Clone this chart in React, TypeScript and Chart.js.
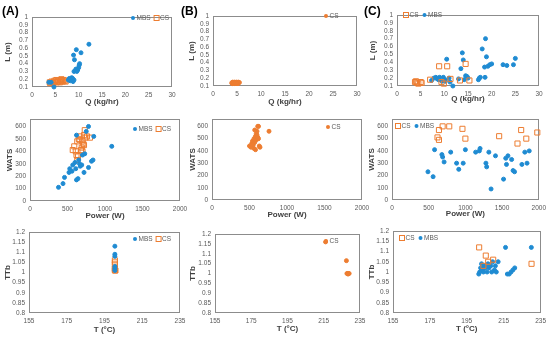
import React, { useEffect, useRef } from "react";
import { Chart, registerables } from "chart.js";
Chart.register(...registerables);

type Pt = [number, number];

const BLUE = "#1f8bd2";
const ORANGE = "#ed7d31";
const FONT = "'Liberation Sans', Arial, sans-serif";

// ---- Row 1: L (m) vs Q (kg/hr)
const qTicks = [0, 30, 5];
const lTicks = [0.1, 1, 0.1];
const A1_MBS: Pt[] = [[12.2,0.65],[9.5,0.58],[10.5,0.54],[8.9,0.51],[9.1,0.45],[10.2,0.40],[10.1,0.38],[10.0,0.35],[9.4,0.33],[9.8,0.32],[9.0,0.30],[9.6,0.30],[8.5,0.22],[8.7,0.21],[8.3,0.20],[9.0,0.19],[8.2,0.18],[8.8,0.17],[8.0,0.21],[7.8,0.19],[4.7,0.10],[3.6,0.16],[4.1,0.16]];
const A1_CS: Pt[] = [[3.8,0.16],[4.2,0.17],[4.5,0.16],[4.8,0.18],[5.0,0.17],[5.3,0.16],[5.6,0.18],[5.9,0.17],[6.2,0.19],[6.4,0.18],[6.6,0.17],[6.8,0.19],[7.0,0.18],[4.6,0.15],[5.2,0.19],[6.0,0.16],[7.2,0.17],[3.9,0.15],[6.3,0.20],[5.5,0.165]];
const B1_CS: Pt[] = [[3.9,0.14],[4.1,0.15],[4.3,0.14],[4.5,0.15],[4.7,0.14],[4.9,0.15],[5.1,0.14],[5.3,0.15],[5.5,0.145],[4.0,0.13],[4.4,0.13],[4.8,0.13],[5.2,0.13],[4.2,0.145],[4.6,0.14],[5.0,0.14]];
const C1_CS: Pt[] = [[3.8,0.15],[4.2,0.14],[4.5,0.13],[5.0,0.15],[5.2,0.14],[7.0,0.18],[8.9,0.35],[9.4,0.15],[9.9,0.13],[10.6,0.35],[11.3,0.19],[13.3,0.17],[14.5,0.38],[15.3,0.17],[4.0,0.16]];
const C1_MBS: Pt[] = [[7.3,0.17],[7.8,0.20],[8.2,0.21],[8.5,0.19],[8.8,0.18],[9.0,0.21],[9.5,0.16],[9.8,0.21],[10.2,0.18],[10.5,0.44],[11.0,0.20],[11.2,0.15],[11.8,0.10],[13.0,0.19],[13.5,0.32],[13.8,0.52],[14.0,0.43],[14.2,0.18],[14.5,0.23],[14.8,0.22],[15.0,0.20],[17.2,0.18],[17.4,0.20],[17.6,0.21],[18.0,0.57],[18.5,0.34],[18.7,0.70],[18.9,0.47],[19.2,0.35],[19.6,0.37],[20.0,0.38],[18.6,0.21],[22.4,0.37],[23.2,0.36],[24.6,0.37],[25.0,0.45],[10.2,0.16],[8.7,0.19]];

// ---- Row 2: WATS vs Power (W)
const pTicks = [0, 2000, 500];
const wTicks = [0, 660, 100];
const A2_MBS: Pt[] = [[380,110],[440,140],[460,190],[520,230],[530,260],[560,240],[570,290],[600,310],[610,260],[620,170],[640,180],[650,330],[660,300],[670,280],[690,290],[700,370],[720,230],[730,380],[780,270],[820,320],[840,330],[620,530],[750,560],[780,600],[850,520],[1090,440]];
const A2_CS: Pt[] = [[570,410],[590,440],[610,400],[620,370],[630,330],[640,360],[650,500],[660,490],[670,520],[680,410],[690,430],[700,480],[710,460],[720,530],[730,570],[740,510],[760,520],[800,510],[630,480],[700,400],[720,450]];
const B2_CS: Pt[] = [[500,440],[520,430],[530,460],[540,480],[550,450],[560,500],[570,470],[580,520],[590,540],[600,560],[610,600],[620,500],[630,440],[640,430],[580,410],[570,570],[590,490],[600,530],[620,600],[760,560],[560,420],[540,450],[610,510]];
const C2_CS: Pt[] = [[620,510],[640,490],[640,570],[690,600],[780,600],[960,580],[1000,500],[1460,520],[1710,460],[1760,570],[1830,500],[1980,550]];
const C2_MBS: Pt[] = [[490,230],[560,190],[580,410],[680,370],[690,350],[710,310],[800,390],[880,300],[910,250],[970,300],[1000,410],[1140,390],[1190,400],[1200,420],[1280,300],[1290,270],[1320,390],[1350,90],[1410,360],[1520,170],[1550,340],[1560,290],[1580,360],[1630,330],[1650,240],[1670,230],[1770,290],[1810,390],[1840,300],[1870,400]];

// ---- Row 3: TTb vs T (°C)
const tTicks = [155, 235, 20];
const ttbTicks = [0.8, 1.2, 0.05];
const A3_MBS: Pt[] = [[200.5,1.13],[200.5,1.09],[200.5,1.08],[200.5,1.03],[200.5,1.02],[200.5,1.01]];
const A3_CS: Pt[] = [[200.5,1.06],[200.5,1.05],[200.5,1.04],[200.5,1.02],[200.5,1.01],[200.5,1.015],[200.8,1.01]];
const B3_CS: Pt[] = [[216,1.16],[227.5,1.065],[227.8,1.0],[228.2,1.0],[228.6,1.0],[229,1.0],[228.4,0.997]];
const C3_CS: Pt[] = [[201.7,1.12],[205.3,1.08],[206.6,1.05],[209.3,1.06],[230.1,1.04],[204,1.03]];
const C3_MBS: Pt[] = [[201.5,0.99],[202,1.0],[202.5,1.02],[203,1.04],[203.5,1.01],[204,1.02],[204.5,1.03],[205,1.02],[205.5,1.03],[206,1.0],[206.5,1.04],[207,1.02],[208,1.03],[209,1.05],[210,1.01],[211,1.0],[212,1.05],[210.5,1.03],[216,1.12],[217,0.99],[218,0.99],[219,1.0],[220,1.01],[221,1.02],[230,1.12],[203,1.01],[204,1.0],[208.5,1.0]];

type Kind = "dot" | "square";
type Series = { label: string; data: Pt[]; kind: Kind };
type Panel = {
  x0: number; y0: number; bottom: number;
  l: number; t: number; r: number; b: number;
  xt: number[]; yt: number[]; xTitle: string; yTitle: string;
  series: Series[]; legendOrder: string[]; lx: number; ly: number;
};

const mk = (label: string, data: Pt[], kind: Kind): Series => ({ label, data, kind });

const panels: Panel[] = [
  { x0: 3, y0: 0, bottom: 107, l: 32, t: 17, r: 172, b: 87, xt: qTicks, yt: lTicks, xTitle: "Q (kg/hr)", yTitle: "L (m)",
    series: [mk("MBS", A1_MBS, "dot"), mk("CS", A1_CS, "square")], legendOrder: ["MBS", "CS"], lx: 133, ly: 18 },
  { x0: 187, y0: 0, bottom: 107, l: 213, t: 16, r: 357, b: 86, xt: qTicks, yt: lTicks, xTitle: "Q (kg/hr)", yTitle: "L (m)",
    series: [mk("CS", B1_CS, "dot")], legendOrder: ["CS"], lx: 326, ly: 16 },
  { x0: 368, y0: 0, bottom: 104, l: 397, t: 15, r: 539, b: 86, xt: qTicks, yt: lTicks, xTitle: "Q (kg/hr)", yTitle: "L (m)",
    series: [mk("CS", C1_CS, "square"), mk("MBS", C1_MBS, "dot")], legendOrder: ["CS", "MBS"], lx: 406, ly: 15 },
  { x0: 5, y0: 108, bottom: 221, l: 30, t: 119, r: 180, b: 201, xt: pTicks, yt: wTicks, xTitle: "Power (W)", yTitle: "WATS",
    series: [mk("MBS", A2_MBS, "dot"), mk("CS", A2_CS, "square")], legendOrder: ["MBS", "CS"], lx: 135, ly: 129 },
  { x0: 188, y0: 108, bottom: 220, l: 212, t: 119, r: 362, b: 200, xt: pTicks, yt: wTicks, xTitle: "Power (W)", yTitle: "WATS",
    series: [mk("CS", B2_CS, "dot")], legendOrder: ["CS"], lx: 328, ly: 127 },
  { x0: 367, y0: 108, bottom: 219, l: 392, t: 119, r: 540, b: 200, xt: pTicks, yt: wTicks, xTitle: "Power (W)", yTitle: "WATS",
    series: [mk("CS", C2_CS, "square"), mk("MBS", C2_MBS, "dot")], legendOrder: ["CS", "MBS"], lx: 398, ly: 126 },
  { x0: 3, y0: 222, bottom: 335, l: 29, t: 232, r: 180, b: 313, xt: tTicks, yt: ttbTicks, xTitle: "T (°C)", yTitle: "TTb",
    series: [mk("MBS", A3_MBS, "dot"), mk("CS", A3_CS, "square")], legendOrder: ["MBS", "CS"], lx: 135, ly: 239 },
  { x0: 188, y0: 222, bottom: 334, l: 215, t: 234, r: 360, b: 313, xt: tTicks, yt: ttbTicks, xTitle: "T (°C)", yTitle: "TTb",
    series: [mk("CS", B3_CS, "dot")], legendOrder: ["CS"], lx: 326, ly: 241 },
  { x0: 367, y0: 222, bottom: 334, l: 393, t: 231, r: 542, b: 313, xt: tTicks, yt: ttbTicks, xTitle: "T (°C)", yTitle: "TTb",
    series: [mk("CS", C3_CS, "square"), mk("MBS", C3_MBS, "dot")], legendOrder: ["CS", "MBS"], lx: 402, ly: 238 },
];

const panelLabels = [
  { text: "(A)", x: 2, y: 4 },
  { text: "(B)", x: 181, y: 4 },
  { text: "(C)", x: 364, y: 4 },
];

const colorOf = (label: string) => (label === "MBS" ? BLUE : ORANGE);

function PanelChart({ p }: { p: Panel }) {
  const ref = useRef<HTMLCanvasElement | null>(null);
  const right = Math.min(550, p.r + 12);
  const w = right - p.x0;
  const h = p.bottom - p.y0;
  useEffect(() => {
    if (!ref.current) return;
    const framePlugin = {
      id: "frame",
      beforeDatasetsDraw(chart: any) {
        const { ctx, chartArea: a } = chart;
        ctx.save();
        ctx.strokeStyle = "#8c8c8c";
        ctx.lineWidth = 1;
        ctx.strokeRect(Math.round(a.left) + 0.5, Math.round(a.top) + 0.5, Math.round(a.right - a.left) - 1, Math.round(a.bottom - a.top) - 1);
        ctx.restore();
      },
      afterDatasetsDraw(chart: any) {
        const ctx = chart.ctx;
        ctx.save();
        ctx.font = `6.5px ${FONT}`;
        ctx.textBaseline = "middle";
        let x = p.lx - p.x0;
        const y = p.ly - p.y0;
        for (const label of p.legendOrder) {
          const s = p.series.find((q) => q.label === label)!;
          const color = colorOf(label);
          if (s.kind === "dot") {
            ctx.beginPath();
            ctx.arc(x, y, 2, 0, Math.PI * 2);
            ctx.fillStyle = color;
            ctx.fill();
          } else {
            ctx.strokeStyle = color;
            ctx.lineWidth = 1;
            ctx.strokeRect(x - 2.5, y - 2.5, 5, 5);
          }
          ctx.fillStyle = "#595959";
          ctx.fillText(label, x + 3.5, y + 0.5);
          x += 3.5 + ctx.measureText(label).width + 6;
        }
        ctx.restore();
      },
    };
    const datasets = p.series.map((s) => {
      const color = colorOf(s.label);
      return {
        label: s.label,
        data: s.data.map(([x, y]) => ({ x, y })),
        pointStyle: s.kind === "dot" ? "circle" : "rect",
        pointRadius: s.kind === "dot" ? 2 : 3.6,
        pointBorderWidth: 1,
        borderWidth: 1,
        backgroundColor: s.kind === "dot" ? color : "rgba(255,255,255,0)",
        borderColor: color,
        clip: false as any,
      };
    });
    const tickFont = { family: FONT, size: 6.5 };
    const titleFont = { family: FONT, size: 8, weight: "bold" as const };
    const fmt = (v: any) => String(Math.round(Number(v) * 1000) / 1000);
    const chart = new Chart(ref.current, {
      type: "scatter",
      data: { datasets: datasets as any },
      options: {
        animation: false,
        responsive: false,
        maintainAspectRatio: false,
        events: [],
        layout: { padding: { left: 0, top: p.t - p.y0, right: right - p.r, bottom: 0 } },
        plugins: { legend: { display: false }, tooltip: { enabled: false } },
        scales: {
          x: {
            type: "linear",
            min: p.xt[0], max: p.xt[1],
            ticks: { stepSize: p.xt[2], font: tickFont, color: "#595959", padding: 4, maxRotation: 0, autoSkip: false, includeBounds: false, callback: fmt },
            grid: { display: false, drawTicks: false },
            border: { display: false },
            title: { display: true, text: p.xTitle, font: titleFont, color: "#404040", padding: 0 },
            afterFit: (s: any) => { s.height = p.bottom - p.b; },
          },
          y: {
            type: "linear",
            min: p.yt[0], max: p.yt[1],
            ticks: { stepSize: p.yt[2], font: tickFont, color: "#595959", padding: 4, autoSkip: false, includeBounds: false, callback: fmt },
            grid: { display: false, drawTicks: false },
            border: { display: false },
            title: { display: true, text: p.yTitle, font: titleFont, color: "#404040", padding: 0 },
            afterFit: (s: any) => { s.width = p.l - p.x0; },
          },
        },
      } as any,
      plugins: [framePlugin],
    });
    return () => chart.destroy();
  }, []);
  return (
    <canvas
      ref={ref}
      width={w}
      height={h}
      style={{ position: "absolute", left: p.x0, top: p.y0, width: w, height: h }}
    />
  );
}

export default function App() {
  return (
    <div style={{ position: "fixed", left: 0, top: 0, width: 550, height: 338, background: "#fff", overflow: "hidden" }}>
      {panels.map((p, i) => (
        <PanelChart key={i} p={p} />
      ))}
      {panelLabels.map((l) => (
        <span
          key={l.text}
          style={{ position: "absolute", left: l.x, top: l.y, font: `bold 12px ${FONT}`, color: "#000", lineHeight: "14px" }}
        >
          {l.text}
        </span>
      ))}
    </div>
  );
}
